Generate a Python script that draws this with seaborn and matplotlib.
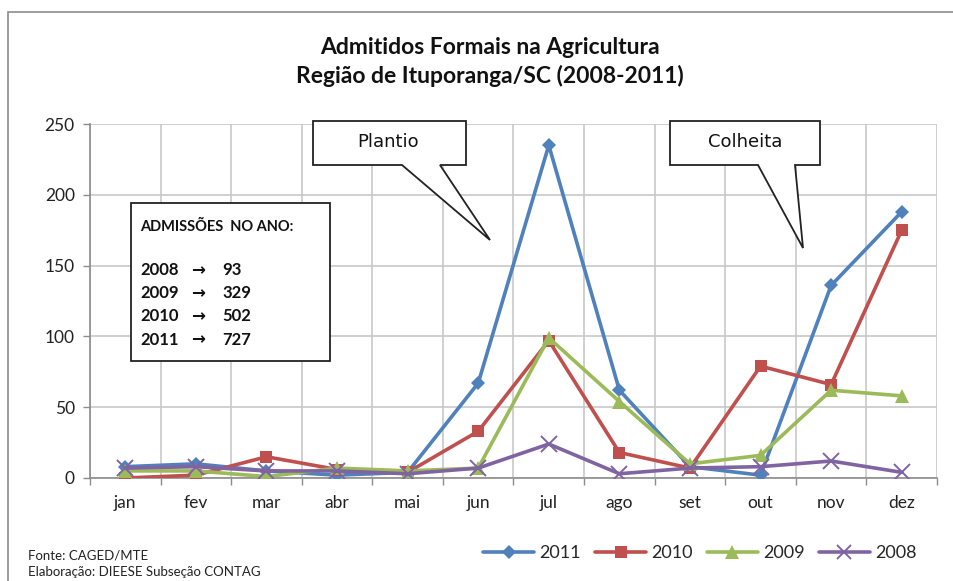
import matplotlib
matplotlib.use("Agg")
import matplotlib.pyplot as plt
from matplotlib.patches import Polygon, Rectangle
from matplotlib.lines import Line2D
import seaborn as sns
import pandas as pd

meses = ["jan", "fev", "mar", "abr", "mai", "jun", "jul", "ago", "set", "out", "nov", "dez"]
v2011 = [8, 10, 5, 2, 4, 67, 235, 62, 8, 2, 136, 188]
v2010 = [0, 2, 15, 6, 4, 33, 97, 18, 7, 79, 66, 175]
v2009 = [5, 5, 1, 7, 5, 7, 99, 54, 10, 16, 62, 58]
v2008 = [7, 8, 5, 5, 3, 7, 24, 3, 7, 8, 12, 4]
anos = ["2011", "2010", "2009", "2008"]
totais = {"2008": 93, "2009": 329, "2010": 502, "2011": 727}
yticks = [0, 50, 100, 150, 200, 250]

series = {"2011": v2011, "2010": v2010, "2009": v2009, "2008": v2008}
rows = []
for ano in anos:
    for i, v in enumerate(series[ano]):
        rows.append({"mes": i, "valor": v, "ano": ano})
df = pd.DataFrame(rows)

sns.set_theme(style="white")
plt.rcParams['font.family'] = ['Lato', 'DejaVu Sans']

W, H = 954, 581
fig = plt.figure(figsize=(W / 100, H / 100), dpi=100)

def px(x, y):
    return (x / W, 1 - y / H)

# outer frame
fig.add_artist(Rectangle(px(8, 700), (990 - 8) / W, (700 - 12) / H, transform=fig.transFigure,
                         fill=False, edgecolor="#8c8c8c", linewidth=1.2))

ax = fig.add_axes([90 / W, 1 - 478 / H, (937 - 90) / W, (478 - 124) / H])

palette = {"2011": "#4F81BD", "2010": "#C0504D", "2009": "#9BBB59", "2008": "#8064A2"}
markers = {"2011": "D", "2010": "s", "2009": "^", "2008": "X"}
msize = {"2011": 7, "2010": 9, "2009": 10, "2008": 10}

for ano in anos:
    sub = df[df["ano"] == ano]
    if ano == "2008":
        sns.lineplot(data=sub, x="mes", y="valor", color=palette[ano], ax=ax, linewidth=2.6,
                     marker="x", markersize=11, markeredgewidth=1.4, markeredgecolor=palette[ano],
                     legend=False, zorder=3)
    else:
        sns.lineplot(data=sub, x="mes", y="valor", color=palette[ano], ax=ax, linewidth=2.6,
                     marker=markers[ano], markersize=msize[ano], markeredgewidth=0,
                     legend=False, zorder=3)

ax.set_xlim(-0.5, 11.5)
ax.set_ylim(0, 250)
ax.set_xticks(range(12))
ax.set_xticklabels(meses)
ax.set_xticks([k - 0.5 for k in range(13)], minor=True)
ax.set_yticks(yticks)
ax.set_yticklabels([str(t) for t in yticks])
ax.grid(True, which="minor", axis="x", color="#c8c8c8", linewidth=1.2)
ax.grid(True, which="major", axis="y", color="#c8c8c8", linewidth=1.2)
ax.grid(False, which="major", axis="x")
ax.set_axisbelow(True)
ax.tick_params(axis="x", which="major", length=0, pad=12, labelsize=12.5, labelcolor="#222222")
ax.tick_params(axis="x", which="minor", length=5, width=1, color="#8c8c8c", direction="out", bottom=True)
ax.tick_params(axis="y", which="major", length=5, width=1, color="#8c8c8c", direction="out", left=True,
               labelsize=12.5, labelcolor="#222222", pad=6)
ax.set_xlabel("")
ax.set_ylabel("")
for s in ["top", "right"]:
    ax.spines[s].set_visible(False)
for s in ["left", "bottom"]:
    ax.spines[s].set_color("#8c8c8c")
    ax.spines[s].set_linewidth(1.2)

# title
fig.text(490 / W, 1 - 47 / H, "Admitidos Formais na Agricultura", ha="center", va="center",
         fontsize=16.5, fontweight="bold", color="#111111")
fig.text(490 / W, 1 - 76 / H, "Região de Ituporanga/SC (2008-2011)", ha="center", va="center",
         fontsize=16.5, fontweight="bold", color="#111111")

# callouts
def callout(pts, label, cx, cy):
    poly = Polygon([px(x, y) for x, y in pts], closed=True, transform=fig.transFigure,
                   facecolor="white", edgecolor="#222222", linewidth=1.3, zorder=10)
    fig.add_artist(poly)
    fig.text(cx / W, 1 - cy / H, label, ha="center", va="center", fontsize=13,
             family=["DejaVu Sans"], color="#111111", zorder=11)

callout([(313, 121), (466, 121), (466, 165), (440, 165), (490, 240), (402, 165), (313, 165)],
        "Plantio", 388, 142)
callout([(670, 121), (820, 121), (820, 165), (795, 165), (803, 248), (758, 165), (670, 165)],
        "Colheita", 745, 142)

# info box
fig.add_artist(Rectangle(px(131, 361), (330 - 131) / W, (361 - 203) / H, transform=fig.transFigure,
                         facecolor="white", edgecolor="#222222", linewidth=1.3, zorder=10))
fig.text(140 / W, 1 - 227 / H, "ADMISSÕES  NO ANO:", ha="left", va="center", fontsize=10.5,
         fontweight="bold", color="#111111", zorder=11)
for k, ano in enumerate(["2008", "2009", "2010", "2011"]):
    y = 270 + k * 23.2
    fig.text(140 / W, 1 - y / H, ano, ha="left", va="center", fontsize=12, fontweight="bold",
             color="#111111", zorder=11)
    fig.text(198 / W, 1 - y / H, "\u2192", ha="center", va="center", fontsize=12, fontweight="bold",
             family=["DejaVu Sans"], color="#111111", zorder=11)
    fig.text(222 / W, 1 - y / H, str(totais[ano]), ha="left", va="center", fontsize=12,
             fontweight="bold", color="#111111", zorder=11)

# legend
handles = []
for ano in anos:
    if ano == "2008":
        h = Line2D([], [], color=palette[ano], linewidth=2.6, marker="x", markersize=10,
                   markeredgewidth=1.4)
    else:
        h = Line2D([], [], color=palette[ano], linewidth=2.6, marker=markers[ano],
                   markersize=msize[ano], markeredgewidth=0)
    handles.append(h)
fig.legend(handles, anos, loc="center", bbox_to_anchor=(700 / W, 1 - 553 / H), ncol=4,
           frameon=False, fontsize=13, handlelength=2.8, columnspacing=0.8, handletextpad=0.3)

# footer
fig.text(28 / W, 1 - 556 / H, "Fonte: CAGED/MTE", ha="left", va="center", fontsize=9.5, color="#222222")
fig.text(28 / W, 1 - 572 / H, "Elaboração: DIEESE Subseção CONTAG", ha="left", va="center",
         fontsize=9.5, color="#222222")

fig.savefig("out.png", dpi=100)
